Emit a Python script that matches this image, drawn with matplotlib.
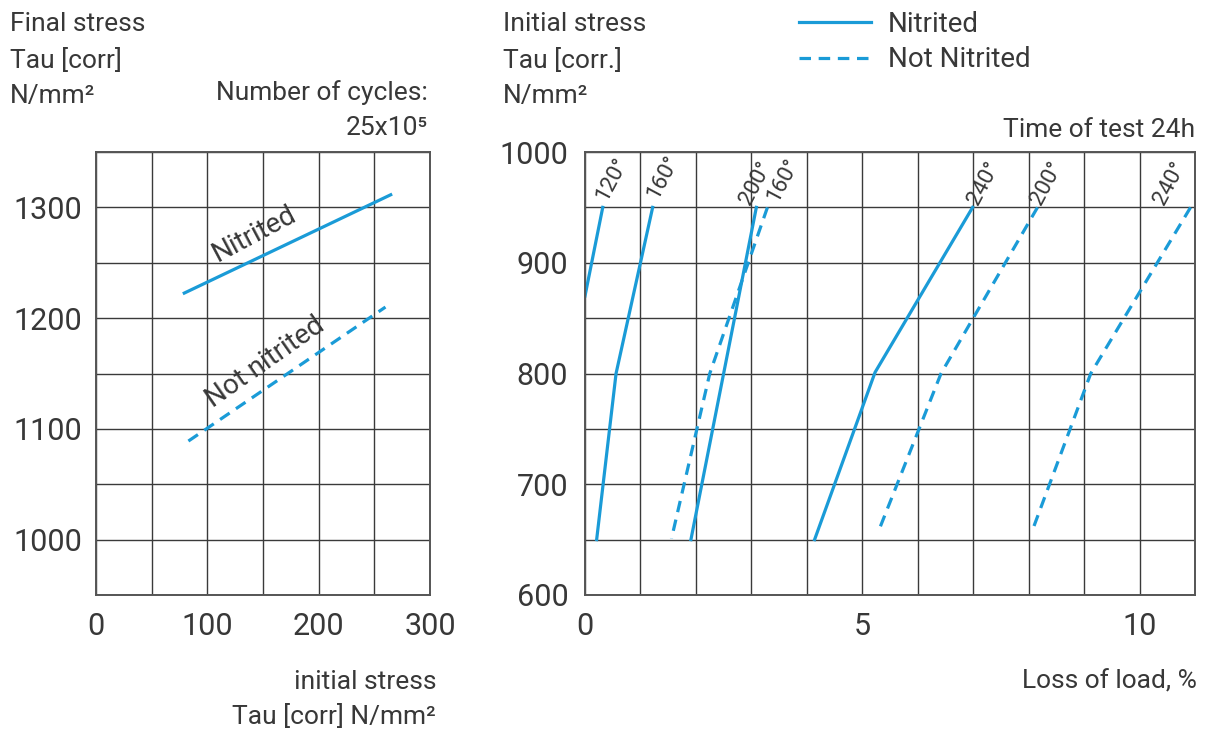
import matplotlib
matplotlib.use("Agg")
import matplotlib.pyplot as plt
from matplotlib.ticker import MultipleLocator, FixedLocator

plt.rcParams['font.family'] = ['Roboto', 'DejaVu Sans']

BLUE = '#1a9bd7'
TXT = '#383838'
GRID = '#3a3a3a'

# ---- left chart data ----
left_xticks = [0, 100, 200, 300]
left_yticks = [1000, 1100, 1200, 1300]
nit_init = [78, 266]
nit_final = [1222, 1312]
not_init = [83, 260]
not_final = [1089, 1210]

# ---- right chart data (loss of load %, initial stress) ----
right_xticks = [0, 5, 10]
right_yticks = [600, 700, 800, 900, 1000]
n120_loss = [0.32, 0.0]
n120_stress = [950, 870]
n160_loss = [1.22, 0.56, 0.21]
n160_stress = [950, 800, 650]
n200_loss = [3.09, 1.91]
n200_stress = [950, 650]
n240_loss = [6.99, 5.23, 4.14]
n240_stress = [950, 801, 650]
nn160_loss = [3.29, 2.25, 1.56]
nn160_stress = [950, 800, 651]
nn200_loss = [8.16, 6.42, 5.28]
nn200_stress = [950, 800, 656]
nn240_loss = [10.92, 9.12, 8.05]
nn240_stress = [950, 800, 656]

temp_labels = ['120°', '160°', '200°', '160°', '240°', '200°', '240°']
temp_label_x = [0.48, 1.40, 3.09, 3.57, 7.2, 8.33, 10.54]
temp_label_y = [975, 977, 972, 975, 972, 972, 972]

W, H = 1205, 735
fig = plt.figure(figsize=(W / 100, H / 100), dpi=100)

def px_axes(x0, y0, x1, y1):
    return fig.add_axes([x0 / W, 1 - y1 / H, (x1 - x0) / W, (y1 - y0) / H])

axL = px_axes(96, 152, 430, 595)
axR = px_axes(585, 152, 1195, 595)

LW = 2.3
DASH = (3.6, 2.4)
FS = 19

def style(ax, xmin, xmax, ymin, ymax, xmaj, ymaj, xminor, yminor, ypad, xpad):
    ax.set_xlim(xmin, xmax)
    ax.set_ylim(ymin, ymax)
    ax.xaxis.set_major_locator(FixedLocator(xmaj))
    ax.yaxis.set_major_locator(FixedLocator(ymaj))
    ax.xaxis.set_minor_locator(MultipleLocator(xminor))
    ax.yaxis.set_minor_locator(MultipleLocator(yminor))
    ax.grid(True, which='both', color=GRID, lw=1.0)
    ax.set_axisbelow(True)
    ax.tick_params(which='both', length=0, labelsize=22, colors=TXT)
    ax.tick_params(axis='y', pad=ypad)
    ax.tick_params(axis='x', pad=xpad)
    for s in ax.spines.values():
        s.set_color('#555555')
        s.set_linewidth(1.4)

style(axL, 0, 300, 950, 1350, left_xticks, left_yticks, 50, 50, 10, 12)
style(axR, 0, 11, 600, 1000, right_xticks, right_yticks, 1, 50, 12, 12)

# left lines
axL.plot(nit_init, nit_final, color=BLUE, lw=LW, solid_capstyle='butt')
axL.plot(not_init, not_final, color=BLUE, lw=LW, dashes=DASH)
axL.text(142, 1276, 'Nitrited', rotation=28, ha='center', va='center',
         fontsize=20, color=TXT, rotation_mode='anchor')
axL.text(152, 1160, 'Not nitrited', rotation=35, ha='center', va='center',
         fontsize=20, color=TXT, rotation_mode='anchor')

# right lines
h_nit = None
for lx, ly in [(n120_loss, n120_stress), (n160_loss, n160_stress),
               (n200_loss, n200_stress), (n240_loss, n240_stress)]:
    h_nit, = axR.plot(lx, ly, color=BLUE, lw=LW)
h_not = None
for lx, ly in [(nn160_loss, nn160_stress), (nn200_loss, nn200_stress),
               (nn240_loss, nn240_stress)]:
    h_not, = axR.plot(lx, ly, color=BLUE, lw=LW, dashes=DASH)

for t, x, y in zip(temp_labels, temp_label_x, temp_label_y):
    axR.text(x, y, t, rotation=62, ha='center', va='center', fontsize=16,
             color=TXT, rotation_mode='anchor')

# figure texts
def ftext(x, y, s, ha='left', size=FS):
    fig.text(x / W, 1 - y / H, s, ha=ha, va='center', fontsize=size, color=TXT)

ftext(10, 24, 'Final stress')
ftext(10, 61, 'Tau [corr]')
ftext(10, 96, 'N/mm²')
ftext(428, 93, 'Number of cycles:', ha='right')
ftext(428, 128, '25x10⁵', ha='right')

ftext(503, 24, 'Initial stress')
ftext(503, 61, 'Tau [corr.]')
ftext(503, 96, 'N/mm²')
ftext(1195, 130, 'Time of test 24h', ha='right')

ftext(436, 682, 'initial stress', ha='right')
ftext(436, 717, 'Tau [corr] N/mm²', ha='right')
ftext(1197, 682, 'Loss of load, %', ha='right')

leg = fig.legend([h_nit, h_not], ['Nitrited', 'Not Nitrited'], loc='upper left',
                 bbox_to_anchor=(799 / W, 1 - 11 / H), frameon=False, fontsize=20,
                 handlelength=2.6, handletextpad=0.6, labelspacing=0.3,
                 borderpad=0, borderaxespad=0)
for t in leg.get_texts():
    t.set_color(TXT)

fig.savefig('out.png', dpi=100)
